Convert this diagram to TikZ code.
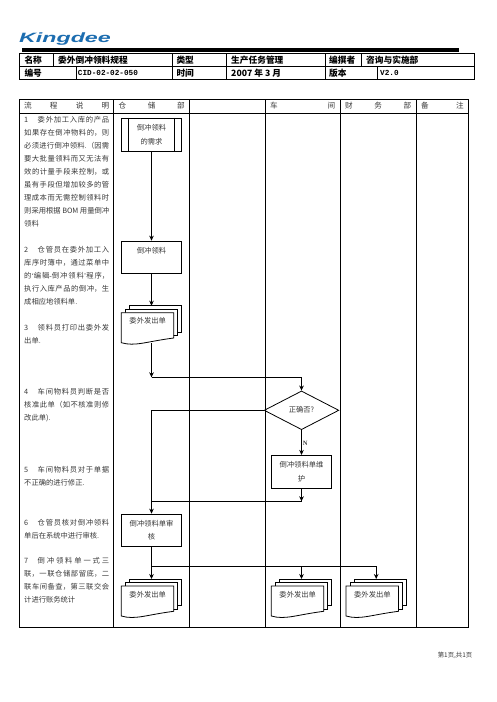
\documentclass[tikz,border=0pt]{standalone}
\usepackage{fontspec}
\setmainfont{Noto Sans CJK SC}
\newfontfamily\latinmono{Liberation Mono}
\newfontfamily\logofont{Liberation Sans}
\newfontfamily\latinserif{Liberation Serif}
\usetikzlibrary{arrows.meta,shapes.geometric}
\XeTeXlinebreaklocale "zh"
\XeTeXlinebreakskip=0pt plus 2pt
\definecolor{txt}{gray}{0.22}
\definecolor{logoblue}{HTML}{1C6DB0}
\tikzset{
  tline/.style={line width=0.9pt},
  flow/.style={line width=0.8pt},
  arr/.style={line width=0.8pt,-{Stealth[length=5pt,width=4.6pt]}},
  shapeline/.style={draw,line width=0.8pt},
  box/.style={shapeline,fill=white,minimum width=60.4pt,minimum height=32.5pt,inner sep=0pt,
    align=center,text=txt,font=\fontsize{7.3}{13.4}\selectfont},
  head/.style={anchor=west,inner sep=0pt,font=\bfseries\fontsize{8.7}{10}\selectfont},
  monohead/.style={anchor=west,inner sep=0pt,font=\latinmono\bfseries\fontsize{7.7}{10}\selectfont},
  colhead/.style={anchor=west,inner sep=0pt,text=txt,font=\fontsize{7.6}{10}\selectfont},
  para/.style={anchor=north west,inner sep=0pt,text width=85pt,align=justify,text=txt,
    font=\fontsize{7.3}{13}\selectfont},
  doclabel/.style={inner sep=0pt,text=txt,font=\fontsize{7.3}{10}\selectfont}
}
% name, left x, top y, label
\newcommand{\docstack}[4]{%
  \begin{scope}[shift={(#2,#3)}]
    \draw[line width=0.8pt,fill=white] (8,0) rectangle (60.4,26.5);
    \draw[line width=0.8pt,fill=white] (4,3.5) rectangle (56.4,30);
    \draw[line width=0.8pt,fill=white] (0,7) -- (0,37)
      .. controls (14,41) and (24,36) .. (52.4,32.3) -- (52.4,7) -- cycle;
    \node[doclabel] (#1label) at (26.4,15.3) {#4};
    \coordinate (#1top) at (30.2,0);
    \coordinate (#1bot) at (30.2,37.6);
  \end{scope}}
\newcommand{\spread}[2]{\makebox[#1][s]{#2}}
\begin{document}
\begin{tikzpicture}[x=1pt,y=-1pt]
\useasboundingbox (0,0) rectangle (496,702);
% logo
\node[inner sep=0pt,text=logoblue] (logo) at (65,39)
  {\scalebox{1.72}[1]{\logofont\bfseries\itshape\fontsize{13.5}{14}\selectfont Kingdee}};
\fill[black] (22,47.6) rectangle (459,52.4);
% top table
\draw[tline] (19.5,53.5) rectangle (474.5,79.5);
\draw[tline] (19.5,66.5) -- (474.5,66.5);
\foreach \x in {172.5,226,325} \draw[tline] (\x,53.5) -- (\x,79.5);
\draw[tline] (53,53.5) -- (53,66.5);
\draw[tline] (361.5,53.5) -- (361.5,66.5);
\draw[tline] (76.7,66.5) -- (76.7,79.5);
\draw[tline] (377,66.5) -- (377,79.5);
\node[head] (h1) at (24.3,60) {名称};
\node[head] (h2) at (58,60) {委外倒冲领料规程};
\node[head] (h3) at (176.3,60) {类型};
\node[head] (h4) at (231,60) {生产任务管理};
\node[head] (h5) at (329,60) {编撰者};
\node[head] (h6) at (366,60) {咨询与实施部};
\node[head] (h7) at (24.3,73) {编号};
\node[monohead] (h8) at (77.7,73) {CID-02-02-050};
\node[head] (h9) at (176.3,73) {时间};
\node[head] (h10) at (231,73) {2007 年 3 月};
\node[head] (h11) at (329,73) {版本};
\node[monohead] (h12) at (380,73) {V2.0};
% main table
\draw[tline] (19.5,99.5) rectangle (468.5,627.2);
\draw[tline] (19.5,113.5) -- (468.5,113.5);
\foreach \x in {113.5,189.5,265.5,340.5,416.5} \draw[tline] (\x,99.5) -- (\x,627.2);
\node[colhead] (c1) at (24,106) {\spread{85pt}{流\hfill 程\hfill 说\hfill 明}};
\node[colhead] (c2) at (118.5,106) {\spread{66pt}{仓\hfill 储\hfill 部}};
\node[colhead] (c3) at (270,106) {\spread{65pt}{车\hfill 间}};
\node[colhead] (c4) at (345,106) {\spread{66pt}{财\hfill 务\hfill 部}};
\node[colhead] (c5) at (421,106) {\spread{42.5pt}{备\hfill 注}};
% description
\node[para] (p1) at (24,116.4) {1\hspace{1.3em}委外加工入库的产品\linebreak 如果存在倒冲物料的，则\linebreak 必须进行倒冲领料.（因需\linebreak 要大批量领料而又无法有\linebreak 效的计量手段来控制，或\linebreak 虽有手段但增加较多的管\linebreak 理成本而无需控制领料时\linebreak 则采用根据 BOM 用量倒冲\linebreak 领料};
\node[para] (p2) at (24,246.4) {2\hspace{1.3em}仓管员在委外加工入\linebreak 库序时簿中，通过菜单中\linebreak 的{\latinserif ‘}编辑{\latinserif -}倒冲领料{\latinserif ’}程序，\linebreak 执行入库产品的倒冲，生\linebreak 成相应地领料单.};
\node[para] (p3) at (24,324.1) {3\hspace{1.3em}领料员打印出委外发\linebreak 出单.};
\node[para] (p4) at (24,388.1) {4\hspace{1.3em}车间物料员判断是否\linebreak 核准此单（如不核准则修\linebreak 改此单).};
\node[para] (p5) at (24,466.4) {5\hspace{1.3em}车间物料员对于单据\linebreak 不正确的进行修正.};
\node[para] (p6) at (24,519.1) {6\hspace{1.3em}仓管员核对倒冲领料\linebreak 单后在系统中进行审核.};
\node[para] (p7) at (24,557.4) {7\hspace{1.3em}倒冲领料单一式三\linebreak 联，一联仓储部留底，二\linebreak 联车间备查，第三联交会\linebreak 计进行账务统计};
% shapes
\node[box,minimum height=33pt] (need) at (151.5,134.8) {倒冲领料\\的需求};
\draw[line width=0.8pt] ([xshift=7pt]need.north west) -- ([xshift=7pt]need.south west);
\draw[line width=0.8pt] ([xshift=-7.4pt]need.north east) -- ([xshift=-7.4pt]need.south east);
\node[box] (back) at (151.5,257.3) {倒冲领料\\\mbox{}};
\docstack{da}{121.3}{305.7}{委外发出单}
\coordinate (j1) at (151.5,377.3);
\node[shapeline,diamond,aspect=1.92,minimum width=74.7pt,minimum height=38.7pt,inner sep=0pt,
  text=txt,font=\fontsize{7.3}{10}\selectfont] (dia) at (301.5,410.3) {\raisebox{1.5pt}{正确否?}};
\node[box,minimum height=33pt] (maint) at (301.5,471.8) {倒冲领料单维\\护};
\coordinate (j2) at (301.5,501.3);
\node[box] (audit) at (151.5,530.3) {倒冲领料单审\\核};
\coordinate (j3) at (151.5,566);
\docstack{db}{121.3}{579}{委外发出单}
\docstack{dc}{271.3}{579}{委外发出单}
\docstack{dd}{346}{579}{委外发出单}
% connectors
\draw[arr] (need) -- (back);
\draw[arr] (back) -- (datop);
\draw[arr] (dabot) -- (j1);
\draw[arr] (j1) -| (dia.north);
\draw[arr] (dia.west) -| (audit.north);
\draw[arr] (dia.south) -- node[right=1pt,pos=0.55,inner sep=0pt,text=txt,font=\latinserif\bfseries\fontsize{6.5}{7}\selectfont] (nlabel) {N} (maint.north);
\draw[arr] (maint.south) -- (j2);
\draw[flow] (j2) -- (j2 -| audit.north);
\draw[arr] (audit.south) -- (dbtop);
\draw[arr] (j3) -| (dctop);
\draw[arr] (j3) -| (ddtop);
\node[inner sep=0pt,anchor=east,text=txt,font=\fontsize{6.4}{8}\selectfont] (foot) at (472.5,655) {第1页,共1页};
\end{tikzpicture}
\end{document}
